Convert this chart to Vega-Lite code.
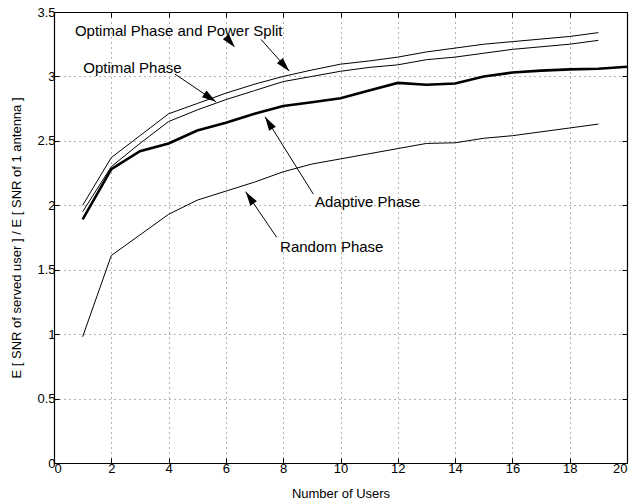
{
  "$schema": "https://vega.github.io/schema/vega-lite/v6.json",
  "width": 573,
  "height": 451,
  "autosize": "none",
  "padding": {"left": 54, "top": 12, "right": 14, "bottom": 39},
  "background": "white",
  "config": {
    "font": "Liberation Sans",
    "view": {"stroke": "#000", "strokeWidth": 1},
    "axis": {
      "domainColor": "#000",
      "domainWidth": 1.2,
      "tickColor": "#000",
      "tickSize": -5,
      "labelColor": "#000",
      "labelFont": "Liberation Sans",
      "labelFontSize": 13,
      "titleFont": "Liberation Sans",
      "titleFontSize": 13,
      "titleFontWeight": "normal",
      "titleColor": "#000",
      "gridColor": "#444",
      "gridDash": [1, 4],
      "gridOpacity": 0.8,
      "gridWidth": 1
    }
  },
  "datasets": {
    "curves": [
      {"series": "Optimal Phase and Power Split", "users": 1, "value": 2.00},
      {"series": "Optimal Phase and Power Split", "users": 2, "value": 2.37},
      {"series": "Optimal Phase and Power Split", "users": 3, "value": 2.54},
      {"series": "Optimal Phase and Power Split", "users": 4, "value": 2.71},
      {"series": "Optimal Phase and Power Split", "users": 5, "value": 2.79},
      {"series": "Optimal Phase and Power Split", "users": 6, "value": 2.87},
      {"series": "Optimal Phase and Power Split", "users": 7, "value": 2.94},
      {"series": "Optimal Phase and Power Split", "users": 8, "value": 3.00},
      {"series": "Optimal Phase and Power Split", "users": 9, "value": 3.05},
      {"series": "Optimal Phase and Power Split", "users": 10, "value": 3.095},
      {"series": "Optimal Phase and Power Split", "users": 11, "value": 3.12},
      {"series": "Optimal Phase and Power Split", "users": 12, "value": 3.15},
      {"series": "Optimal Phase and Power Split", "users": 13, "value": 3.19},
      {"series": "Optimal Phase and Power Split", "users": 14, "value": 3.22},
      {"series": "Optimal Phase and Power Split", "users": 15, "value": 3.25},
      {"series": "Optimal Phase and Power Split", "users": 16, "value": 3.27},
      {"series": "Optimal Phase and Power Split", "users": 17, "value": 3.29},
      {"series": "Optimal Phase and Power Split", "users": 18, "value": 3.31},
      {"series": "Optimal Phase and Power Split", "users": 19, "value": 3.34},
      {"series": "Optimal Phase", "users": 1, "value": 1.95},
      {"series": "Optimal Phase", "users": 2, "value": 2.30},
      {"series": "Optimal Phase", "users": 3, "value": 2.48},
      {"series": "Optimal Phase", "users": 4, "value": 2.65},
      {"series": "Optimal Phase", "users": 5, "value": 2.74},
      {"series": "Optimal Phase", "users": 6, "value": 2.82},
      {"series": "Optimal Phase", "users": 7, "value": 2.89},
      {"series": "Optimal Phase", "users": 8, "value": 2.96},
      {"series": "Optimal Phase", "users": 9, "value": 3.00},
      {"series": "Optimal Phase", "users": 10, "value": 3.04},
      {"series": "Optimal Phase", "users": 11, "value": 3.07},
      {"series": "Optimal Phase", "users": 12, "value": 3.09},
      {"series": "Optimal Phase", "users": 13, "value": 3.13},
      {"series": "Optimal Phase", "users": 14, "value": 3.15},
      {"series": "Optimal Phase", "users": 15, "value": 3.18},
      {"series": "Optimal Phase", "users": 16, "value": 3.21},
      {"series": "Optimal Phase", "users": 17, "value": 3.23},
      {"series": "Optimal Phase", "users": 18, "value": 3.25},
      {"series": "Optimal Phase", "users": 19, "value": 3.28},
      {"series": "Adaptive Phase", "users": 1, "value": 1.89},
      {"series": "Adaptive Phase", "users": 2, "value": 2.28},
      {"series": "Adaptive Phase", "users": 3, "value": 2.42},
      {"series": "Adaptive Phase", "users": 4, "value": 2.48},
      {"series": "Adaptive Phase", "users": 5, "value": 2.58},
      {"series": "Adaptive Phase", "users": 6, "value": 2.64},
      {"series": "Adaptive Phase", "users": 7, "value": 2.71},
      {"series": "Adaptive Phase", "users": 8, "value": 2.77},
      {"series": "Adaptive Phase", "users": 9, "value": 2.80},
      {"series": "Adaptive Phase", "users": 10, "value": 2.83},
      {"series": "Adaptive Phase", "users": 11, "value": 2.89},
      {"series": "Adaptive Phase", "users": 12, "value": 2.95},
      {"series": "Adaptive Phase", "users": 13, "value": 2.935},
      {"series": "Adaptive Phase", "users": 14, "value": 2.945},
      {"series": "Adaptive Phase", "users": 15, "value": 3.00},
      {"series": "Adaptive Phase", "users": 16, "value": 3.03},
      {"series": "Adaptive Phase", "users": 17, "value": 3.045},
      {"series": "Adaptive Phase", "users": 18, "value": 3.055},
      {"series": "Adaptive Phase", "users": 19, "value": 3.06},
      {"series": "Adaptive Phase", "users": 20, "value": 3.075},
      {"series": "Random Phase", "users": 1, "value": 0.98},
      {"series": "Random Phase", "users": 2, "value": 1.61},
      {"series": "Random Phase", "users": 3, "value": 1.77},
      {"series": "Random Phase", "users": 4, "value": 1.93},
      {"series": "Random Phase", "users": 5, "value": 2.04},
      {"series": "Random Phase", "users": 6, "value": 2.11},
      {"series": "Random Phase", "users": 7, "value": 2.18},
      {"series": "Random Phase", "users": 8, "value": 2.26},
      {"series": "Random Phase", "users": 9, "value": 2.32},
      {"series": "Random Phase", "users": 10, "value": 2.36},
      {"series": "Random Phase", "users": 11, "value": 2.40},
      {"series": "Random Phase", "users": 12, "value": 2.44},
      {"series": "Random Phase", "users": 13, "value": 2.48},
      {"series": "Random Phase", "users": 14, "value": 2.485},
      {"series": "Random Phase", "users": 15, "value": 2.52},
      {"series": "Random Phase", "users": 16, "value": 2.54},
      {"series": "Random Phase", "users": 17, "value": 2.57},
      {"series": "Random Phase", "users": 18, "value": 2.60},
      {"series": "Random Phase", "users": 19, "value": 2.63}
    ],
    "labels": [
      {"text": "Optimal Phase and Power Split", "x": 0.73, "y": 3.313},
      {"text": "Optimal Phase", "x": 1.02, "y": 3.023},
      {"text": "Adaptive Phase", "x": 9.11, "y": 1.988},
      {"text": "Random Phase", "x": 7.89, "y": 1.639}
    ],
    "arrows": [
      {"name": "split", "tailX": 7.225, "tailY": 3.287, "tipX": 8.213, "tipY": 3.041},
      {"name": "optimal", "tailX": 4.223, "tailY": 3.018, "tipX": 5.654, "tipY": 2.803},
      {"name": "adaptive", "tailX": 9.05, "tailY": 2.087, "tipX": 7.365, "tipY": 2.687},
      {"name": "random", "tailX": 7.773, "tailY": 1.751, "tipX": 6.691, "tipY": 2.105},
      {"name": "stray", "tailX": null, "tailY": null, "tipX": 6.318, "tipY": 3.224}
    ]
  },
  "resolve": {"axis": {"x": "independent", "y": "independent"}},
  "layer": [
    {
      "layer": [
        {
          "data": {"name": "curves"},
          "transform": [{"filter": "datum.series !== 'Adaptive Phase'"}],
          "mark": {"type": "line", "color": "#000", "strokeWidth": 1},
          "encoding": {
            "x": {"field": "users", "type": "quantitative", "scale": {"domain": [0, 20], "nice": false},
                  "axis": {"title": "Number of Users", "values": [0, 2, 4, 6, 8, 10, 12, 14, 16, 18, 20], "format": "~g", "grid": true, "labelPadding": 4, "titlePadding": 12}},
            "y": {"field": "value", "type": "quantitative", "scale": {"domain": [0, 3.5], "nice": false},
                  "axis": {"title": "E [ SNR of served user ] / E [ SNR of 1 antenna ]", "values": [0, 0.5, 1, 1.5, 2, 2.5, 3, 3.5], "format": "~g", "grid": true, "labelPadding": 4, "titlePadding": 13}},
            "detail": {"field": "series", "type": "nominal"}
          }
        },
        {
          "data": {"name": "curves"},
          "transform": [{"filter": "datum.series === 'Adaptive Phase'"}],
          "mark": {"type": "line", "color": "#000", "strokeWidth": 2.6},
          "encoding": {
            "x": {"field": "users", "type": "quantitative"},
            "y": {"field": "value", "type": "quantitative"}
          }
        },
        {
          "data": {"name": "arrows"},
          "transform": [{"filter": "datum.tailX !== null"}],
          "mark": {"type": "rule", "color": "#000", "strokeWidth": 1},
          "encoding": {
            "x": {"field": "tailX", "type": "quantitative"},
            "y": {"field": "tailY", "type": "quantitative"},
            "x2": {"field": "tipX"},
            "y2": {"field": "tipY"}
          }
        },
        {
          "data": {"name": "arrows"},
          "transform": [{"filter": "datum.name === 'split'"}],
          "mark": {"type": "point", "shape": "M0,0L-0.28,1L0.28,1Z", "filled": true, "color": "#000", "opacity": 1, "size": 800, "angle": 138},
          "encoding": {"x": {"field": "tipX", "type": "quantitative"}, "y": {"field": "tipY", "type": "quantitative"}}
        },
        {
          "data": {"name": "arrows"},
          "transform": [{"filter": "datum.name === 'optimal'"}],
          "mark": {"type": "point", "shape": "M0,0L-0.28,1L0.28,1Z", "filled": true, "color": "#000", "opacity": 1, "size": 800, "angle": 124},
          "encoding": {"x": {"field": "tipX", "type": "quantitative"}, "y": {"field": "tipY", "type": "quantitative"}}
        },
        {
          "data": {"name": "arrows"},
          "transform": [{"filter": "datum.name === 'adaptive'"}],
          "mark": {"type": "point", "shape": "M0,0L-0.28,1L0.28,1Z", "filled": true, "color": "#000", "opacity": 1, "size": 800, "angle": 328},
          "encoding": {"x": {"field": "tipX", "type": "quantitative"}, "y": {"field": "tipY", "type": "quantitative"}}
        },
        {
          "data": {"name": "arrows"},
          "transform": [{"filter": "datum.name === 'random'"}],
          "mark": {"type": "point", "shape": "M0,0L-0.28,1L0.28,1Z", "filled": true, "color": "#000", "opacity": 1, "size": 800, "angle": 326},
          "encoding": {"x": {"field": "tipX", "type": "quantitative"}, "y": {"field": "tipY", "type": "quantitative"}}
        },
        {
          "data": {"name": "arrows"},
          "transform": [{"filter": "datum.name === 'stray'"}],
          "mark": {"type": "point", "shape": "M0,0L-0.28,1L0.28,1Z", "filled": true, "color": "#000", "opacity": 1, "size": 800, "angle": 140},
          "encoding": {"x": {"field": "tipX", "type": "quantitative"}, "y": {"field": "tipY", "type": "quantitative"}}
        },
        {
          "data": {"name": "labels"},
          "mark": {"type": "text", "align": "left", "baseline": "alphabetic", "fontSize": 15, "color": "#000", "font": "Liberation Sans"},
          "encoding": {
            "x": {"field": "x", "type": "quantitative"},
            "y": {"field": "y", "type": "quantitative"},
            "text": {"field": "text", "type": "nominal"}
          }
        }
      ]
    },
    {
      "data": {"name": "labels"},
      "mark": {"type": "point", "opacity": 0},
      "encoding": {
        "x": {"field": "x", "type": "quantitative", "scale": {"domain": [0, 20], "nice": false},
              "axis": {"orient": "top", "title": null, "labels": false, "grid": false, "values": [0, 2, 4, 6, 8, 10, 12, 14, 16, 18, 20]}},
        "y": {"field": "y", "type": "quantitative", "scale": {"domain": [0, 3.5], "nice": false},
              "axis": {"orient": "right", "title": null, "labels": false, "grid": false, "values": [0, 0.5, 1, 1.5, 2, 2.5, 3, 3.5]}}
      }
    }
  ]
}
